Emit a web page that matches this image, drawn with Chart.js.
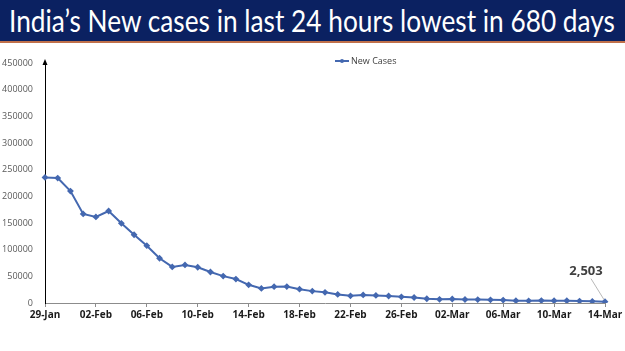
<!DOCTYPE html>
<html>
<head>
<meta charset="utf-8">
<script src="https://cdn.jsdelivr.net/npm/chart.js@4/dist/chart.umd.min.js"></script>
<style>
  html, body { margin: 0; padding: 0; background: #fff; }
  #wrap { position: relative; width: 625px; height: 351px; overflow: hidden; }
  #banner {
    position: absolute; left: 0; top: 0; width: 625px; height: 41px;
    background: #0b2161; border-bottom: 2px solid #c0704a; z-index: 2;
    overflow: hidden;
  }
  #title {
    position: absolute; left: 0; top: 2px; white-space: nowrap;
    font-family: Lato, "Open Sans", sans-serif; font-size: 30px; color: #fff;
    transform-origin: 0 0;
  }
  #chart { position: absolute; left: 0; top: 0; }
</style>
</head>
<body>
<div id="wrap">
  <div id="banner"><span id="title">India’s New cases in last 24 hours lowest in 680 days</span></div>
  <canvas id="chart" width="625" height="351"></canvas>
</div>
<script>
// dates shown on the x axis (one per day)
const days = [
  "29-Jan", "30-Jan", "31-Jan",
  "01-Feb", "02-Feb", "03-Feb", "04-Feb", "05-Feb", "06-Feb", "07-Feb", "08-Feb", "09-Feb", "10-Feb",
  "11-Feb", "12-Feb", "13-Feb", "14-Feb", "15-Feb", "16-Feb", "17-Feb", "18-Feb", "19-Feb", "20-Feb",
  "21-Feb", "22-Feb", "23-Feb", "24-Feb", "25-Feb", "26-Feb", "27-Feb", "28-Feb",
  "01-Mar", "02-Mar", "03-Mar", "04-Mar", "05-Mar", "06-Mar", "07-Mar", "08-Mar", "09-Mar", "10-Mar",
  "11-Mar", "12-Mar", "13-Mar", "14-Mar"
];
const newCases = [
  235532, 234281, 209918,
  167059, 161386, 172433, 149394, 127952, 107474, 83876, 67597, 71365, 67084,
  58077, 50407, 44877, 34113, 27409, 30615, 30757, 25920, 22270, 19968,
  16051, 13405, 15102, 14148, 13166, 11499, 10273, 8013,
  6915, 7554, 6561, 6396, 5921, 5476, 4362, 3993, 4575, 4184,
  4194, 3614, 3116, 2503
];
const seriesName = "New Cases";
const lastLabel = "2,503";

// squeeze the title to the banner width
const title = document.getElementById("title");
const tw = title.getBoundingClientRect().width;
title.style.transform = "scaleX(" + (606 / tw) + ")";
title.style.left = "9px";

const lineColor = "#4468b0";

const extras = {
  id: "extras",
  afterDraw(chart) {
    const c = chart.ctx;
    const x = chart.scales.x, y = chart.scales.y;
    c.save();
    // arrow on top of y axis
    c.fillStyle = "#000";
    c.beginPath();
    c.moveTo(x.left, y.top - 4);
    c.lineTo(x.left - 2.5, y.top + 2);
    c.lineTo(x.left + 2.5, y.top + 2);
    c.closePath();
    c.fill();
    // legend
    const lx = 335, ly = 61;
    c.strokeStyle = lineColor; c.lineWidth = 2;
    c.beginPath(); c.moveTo(lx, ly); c.lineTo(lx + 14, ly); c.stroke();
    c.fillStyle = lineColor;
    c.beginPath(); c.arc(lx + 7, ly, 2, 0, Math.PI * 2); c.fill();
    c.fillStyle = "#404040";
    c.font = "9px 'Open Sans', sans-serif";
    c.textBaseline = "middle";
    c.fillText(seriesName, lx + 16, ly);
    // data label for last point
    const last = newCases.length - 1;
    const px = x.getPixelForValue(last), py = y.getPixelForValue(newCases[last]);
    c.strokeStyle = "#a6a6a6"; c.lineWidth = 0.8;
    c.beginPath(); c.moveTo(px - 14, py - 23); c.lineTo(px - 1, py - 2); c.stroke();
    c.fillStyle = "#404040";
    c.font = "bold 13px 'Open Sans', sans-serif";
    c.textAlign = "center";
    c.textBaseline = "middle";
    c.fillText(lastLabel, px - 19, py - 30);
    c.restore();
  }
};

new Chart(document.getElementById("chart").getContext("2d"), {
  type: "line",
  data: {
    labels: days,
    datasets: [{
      label: seriesName,
      data: newCases,
      borderColor: lineColor,
      backgroundColor: lineColor,
      borderWidth: 2,
      pointRadius: 2,
      pointStyle: "rectRot",
      tension: 0
    }]
  },
  options: {
    responsive: false,
    animation: false,
    layout: { padding: { left: 0, top: 63, right: 20, bottom: 0 } },
    plugins: { legend: { display: false }, tooltip: { enabled: false } },
    scales: {
      x: {
        afterFit(s) { s.height = 48; },
        border: { color: "#8c8c8c", width: 1 },
        grid: {
          drawOnChartArea: false,
          tickLength: 4,
          tickColor: (ctx) => (ctx.index % 4 === 0 ? "#8c8c8c" : "transparent")
        },
        ticks: {
          autoSkip: false,
          maxRotation: 0,
          padding: 2,
          color: "#1a1a1a",
          font: { family: "'Open Sans', sans-serif", size: 10, weight: "bold" },
          callback(v, i) { return i % 4 === 0 ? days[i] : ""; }
        }
      },
      y: {
        min: 0,
        max: 450000,
        afterFit(s) { s.width = 45; },
        border: { color: "#000", width: 1 },
        grid: { display: false },
        ticks: {
          stepSize: 50000,
          padding: 4,
          color: "#595959",
          font: { family: "'Open Sans', sans-serif", size: 9 },
          callback(v) { return String(v); }
        }
      }
    }
  },
  plugins: [extras]
});
</script>
</body>
</html>
